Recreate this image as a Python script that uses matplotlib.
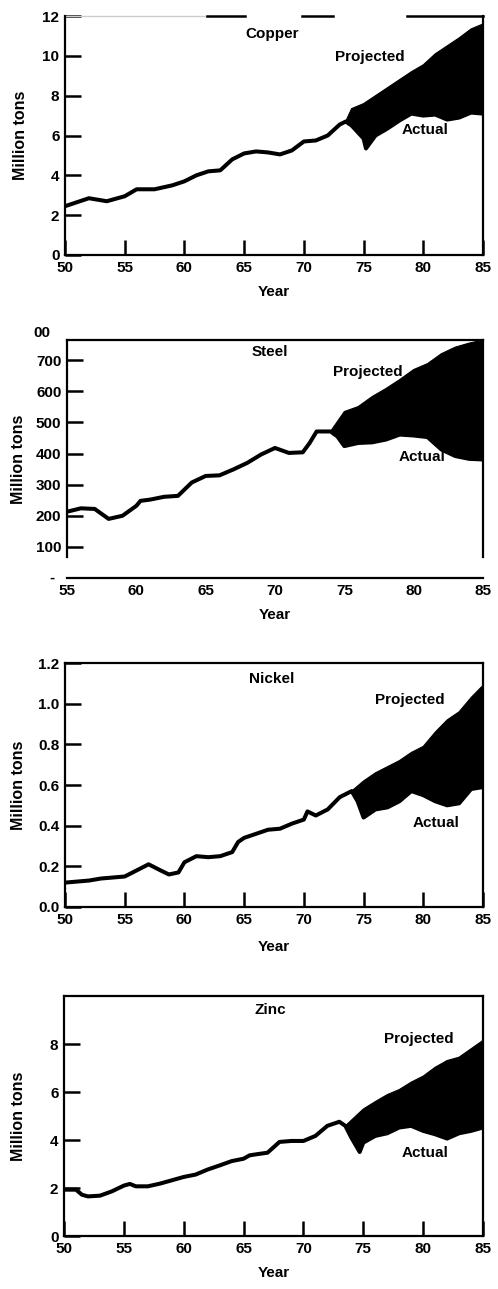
import numpy as np
import matplotlib
matplotlib.use("Agg")
import matplotlib.pyplot as plt

plt.rcParams['font.family'] = ['Liberation Sans', 'DejaVu Sans']
plt.rcParams['font.weight'] = 'bold'

# ---------------- data ----------------
copper_years = [1950, 1951, 1952, 1953, 1953.5, 1955, 1956, 1957.5, 1959, 1960, 1961, 1962, 1963,
                1964, 1965, 1966, 1967, 1968, 1969, 1970, 1971, 1972, 1973, 1973.5, 1974, 1975,
                1975.2, 1976, 1977, 1978, 1979, 1980, 1981, 1982, 1983, 1984, 1985]
copper_actual = [2.45, 2.65, 2.85, 2.75, 2.7, 2.95, 3.3, 3.3, 3.5, 3.7, 4.0, 4.2, 4.25,
                 4.8, 5.1, 5.2, 5.15, 5.05, 5.25, 5.7, 5.75, 6.0, 6.55, 6.7, 6.5, 5.85,
                 5.35, 6.0, 6.35, 6.75, 7.1, 7.0, 7.05, 6.8, 6.9, 7.15, 7.1]
copper_proj_years = [1973.5, 1974, 1975, 1976, 1977, 1978, 1979, 1980, 1981, 1982, 1983, 1984, 1985]
copper_proj = [6.7, 7.35, 7.6, 8.0, 8.4, 8.8, 9.2, 9.55, 10.1, 10.5, 10.9, 11.35, 11.6]

steel_years = [1955, 1956, 1957, 1958, 1959, 1960, 1960.3, 1961, 1962, 1963, 1964, 1965, 1966,
               1967, 1968, 1969, 1970, 1971, 1972, 1972.5, 1973, 1974, 1974.5, 1975, 1976,
               1977, 1978, 1979, 1980, 1981, 1982, 1983, 1984, 1985]
steel_actual = [213, 224, 222, 190, 200, 232, 248, 252, 261, 264, 307, 328, 330,
                349, 370, 397, 418, 402, 404, 434, 471, 471, 455, 424, 434,
                436, 445, 461, 458, 453, 413, 392, 383, 381]
steel_proj_years = [1974, 1975, 1976, 1977, 1978, 1979, 1980, 1981, 1982, 1983, 1984, 1985]
steel_proj = [471, 535, 551, 583, 609, 638, 670, 689, 721, 742, 755, 765]

nickel_years = [1950, 1952, 1953, 1955, 1956, 1957, 1958, 1958.7, 1959.5, 1960, 1961, 1962, 1963,
                1964, 1964.5, 1965, 1966, 1967, 1968, 1969, 1970, 1970.3, 1971, 1972, 1973,
                1974, 1974.5, 1975, 1976, 1977, 1978, 1979, 1980, 1981, 1982, 1983, 1984, 1985]
nickel_actual = [0.12, 0.13, 0.14, 0.15, 0.18, 0.21, 0.18, 0.16, 0.17, 0.22, 0.25, 0.245, 0.25,
                 0.27, 0.32, 0.34, 0.36, 0.38, 0.385, 0.41, 0.43, 0.47, 0.45, 0.48, 0.54,
                 0.57, 0.52, 0.44, 0.48, 0.49, 0.52, 0.57, 0.55, 0.52, 0.50, 0.51, 0.58, 0.59]
nickel_proj_years = [1974, 1975, 1976, 1977, 1978, 1979, 1980, 1981, 1982, 1983, 1984, 1985]
nickel_proj = [0.57, 0.62, 0.66, 0.69, 0.72, 0.76, 0.79, 0.86, 0.92, 0.96, 1.03, 1.09]

zinc_years = [1950, 1951, 1951.5, 1952, 1953, 1954, 1955, 1955.5, 1956, 1957, 1958, 1959, 1960,
              1961, 1962, 1963, 1964, 1965, 1965.5, 1966, 1967, 1968, 1969, 1970, 1971, 1972,
              1973, 1973.5, 1974, 1974.7, 1975, 1976, 1977, 1978, 1979, 1980, 1981, 1982,
              1983, 1984, 1985]
zinc_actual = [1.93, 1.93, 1.72, 1.65, 1.68, 1.86, 2.1, 2.17, 2.07, 2.07, 2.18, 2.32, 2.46,
               2.56, 2.77, 2.94, 3.12, 3.22, 3.36, 3.4, 3.47, 3.92, 3.96, 3.96, 4.17, 4.59,
               4.76, 4.59, 4.1, 3.5, 3.89, 4.17, 4.28, 4.52, 4.59, 4.38, 4.24, 4.06,
               4.28, 4.38, 4.52]
zinc_proj_years = [1973.5, 1975, 1976, 1977, 1978, 1979, 1980, 1981, 1982, 1983, 1984, 1985]
zinc_proj = [4.59, 5.29, 5.6, 5.89, 6.1, 6.41, 6.66, 7.03, 7.31, 7.45, 7.8, 8.15]

x_ticks_full = [50, 55, 60, 65, 70, 75, 80, 85]
x_ticks_steel = [55, 60, 65, 70, 75, 80, 85]

# ---------------- figure ----------------
fig = plt.figure(figsize=(4.98, 12.89), dpi=100)
W, H = 498.0, 1289.0
FS = 11


def make_ax(left, right, top, bottom):
    return fig.add_axes([left / W, 1 - bottom / H, (right - left) / W, (bottom - top) / H])


def style(ax, xlim, ylim, xticks, yticks, yticklabels, ylab_x, year_gap, xtick_len=11):
    ax.set_xlim(*xlim)
    ax.set_ylim(*ylim)
    ax.set_xticks([t + 1900 for t in xticks])
    ax.set_xticklabels([str(t) for t in xticks])
    ax.set_yticks(yticks)
    ax.set_yticklabels(yticklabels)
    ax.tick_params(axis='y', direction='in', length=11.5, width=1.8, labelsize=FS, pad=4)
    ax.tick_params(axis='x', direction='in', length=xtick_len, width=1.8, labelsize=FS, pad=4)
    for s in ax.spines.values():
        s.set_linewidth(1.6)
    ax.set_ylabel('Million tons', fontsize=11.5, fontweight='bold')
    ax.yaxis.set_label_coords(ylab_x, 0.5)
    ax.set_xlabel('Year', fontsize=FS, fontweight='bold')
    bb = ax.get_position()
    ax.xaxis.set_label_coords(0.5, -year_gap / (bb.height * H))


def draw(ax, years, actual, pyears, proj):
    years = np.asarray(years, float)
    actual = np.asarray(actual, float)
    m = years >= pyears[0]
    xs = np.concatenate([np.asarray(pyears, float), years[m][::-1]])
    ys = np.concatenate([np.asarray(proj, float), actual[m][::-1]])
    ax.fill(xs, ys, color='black', lw=0.8, zorder=2)
    ax.plot(years, actual, color='black', lw=2.9, solid_capstyle='round',
            solid_joinstyle='round', zorder=3)


def labels(ax, name, pos_name, pos_proj, pos_act):
    ax.text(*pos_name, name, transform=ax.transAxes, ha='center', va='center', fontsize=FS)
    ax.text(*pos_proj, 'Projected', transform=ax.transAxes, ha='center', va='center', fontsize=FS)
    ax.text(*pos_act, 'Actual', transform=ax.transAxes, ha='center', va='center', fontsize=FS)


# Copper
ax1 = make_ax(65, 483, 16, 255)
draw(ax1, copper_years, copper_actual, copper_proj_years, copper_proj)
style(ax1, (1950, 1985), (0, 12), x_ticks_full, [0, 2, 4, 6, 8, 10, 12],
      ['0', '2', '4', '6', '8', '10', '12'], -0.089, 30)
ax1.spines['top'].set_visible(False)
for a, b, c, lw in [(0.0, 0.34, '#cccccc', 1.0), (0.34, 0.43, 'black', 1.8),
                    (0.567, 0.641, 'black', 1.8), (0.818, 1.0, 'black', 1.8)]:
    ax1.plot([a, b], [1.0, 1.0], transform=ax1.transAxes, color=c, lw=lw, clip_on=False)
labels(ax1, 'Copper', (0.495, 0.925), (0.73, 0.828), (0.861, 0.523))

# Steel
ax2 = make_ax(67, 483, 340, 578)
draw(ax2, steel_years, steel_actual, steel_proj_years, steel_proj)
style(ax2, (1955, 1985), (0, 765), x_ticks_steel, [100, 200, 300, 400, 500, 600, 700],
      ['100', '200', '300', '400', '500', '600', '700'], -0.099, 30, xtick_len=0)
ax2.spines['left'].set_bounds(67, 765)
ax2.spines['right'].set_bounds(67, 765)
ax2.text(-0.041, 1.03, '00', transform=ax2.transAxes, ha='right', va='center', fontsize=FS)
ax2.text(-0.03, 0.0, '-', transform=ax2.transAxes, ha='right', va='center', fontsize=FS)
labels(ax2, 'Steel', (0.488, 0.95), (0.724, 0.866), (0.853, 0.508))

# Nickel
ax3 = make_ax(65, 483, 663, 907)
draw(ax3, nickel_years, nickel_actual, nickel_proj_years, nickel_proj)
style(ax3, (1950, 1985), (0, 1.2), x_ticks_full, [0, 0.2, 0.4, 0.6, 0.8, 1.0, 1.2],
      ['0.0', '0.2', '0.4', '0.6', '0.8', '1.0', '1.2'], -0.093, 33)
labels(ax3, 'Nickel', (0.495, 0.934), (0.825, 0.848), (0.888, 0.344))

# Zinc
ax4 = make_ax(64, 483, 996, 1236)
draw(ax4, zinc_years, zinc_actual, zinc_proj_years, zinc_proj)
style(ax4, (1950, 1985), (0, 10), x_ticks_full, [0, 2, 4, 6, 8],
      ['0', '2', '4', '6', '8'], -0.091, 30)
labels(ax4, 'Zinc', (0.492, 0.942), (0.847, 0.821), (0.862, 0.346))

fig.savefig('out.png', dpi=100, facecolor='white')
